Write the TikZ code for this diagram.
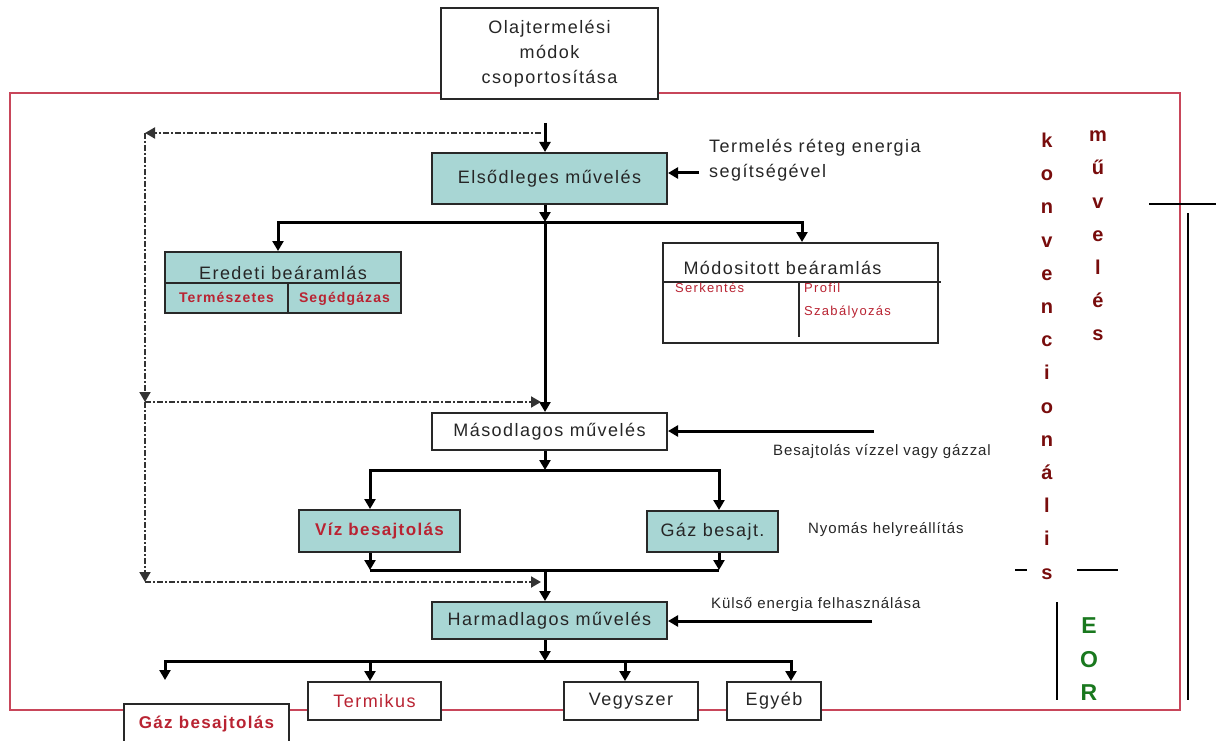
\documentclass[tikz,border=0pt]{standalone}
\usepackage{fontspec}
\setmainfont{Liberation Sans}
\newfontfamily\dfont[LetterSpace=8]{Liberation Sans}
\newfontfamily\sfontsp[LetterSpace=6]{Liberation Sans}
\newfontfamily\cfont[LetterSpace=10]{Liberation Sans}
\usetikzlibrary{arrows.meta,calc}
\definecolor{teal1}{RGB}{168,214,212}
\definecolor{redtxt}{RGB}{185,35,50}
\definecolor{darkred}{RGB}{120,12,12}
\definecolor{eorgreen}{RGB}{25,120,30}
\definecolor{framered}{RGB}{200,70,90}
\definecolor{boxline}{RGB}{40,40,40}
\tikzset{
 box/.style={draw=boxline, line width=2pt, fill=white, inner sep=0pt, font=\dfont\fontsize{18}{22}\selectfont, text=black!85},
 tbox/.style={box, fill=teal1},
 conn/.style={line width=3pt, draw=black},
 arr/.style={conn, -{Triangle[length=10pt,width=11pt]}},
 dsh/.style={line width=2pt, draw=black!80, dash pattern=on 6pt off 2pt on 2pt off 2pt, -{Triangle[length=10pt,width=11pt]}},
 lbl/.style={font=\dfont\fontsize{18}{25}\selectfont, text=black!85, inner sep=0pt, anchor=west, align=left},
 slbl/.style={font=\sfontsp\fontsize{15}{18}\selectfont, text=black!85, inner sep=0pt, anchor=base west},
 celltxt/.style={font=\dfont\fontsize{14}{16}\selectfont\bfseries, text=redtxt, inner sep=0pt, anchor=base},
 smalltxt/.style={font=\cfont\fontsize{13}{15}\selectfont, text=redtxt, inner sep=0pt, anchor=base west},
 vl/.style={font=\fontsize{20}{20}\selectfont\bfseries, text=darkred, inner sep=0pt, anchor=base},
 eor/.style={font=\fontsize{23}{23}\selectfont\bfseries, text=eorgreen, inner sep=0pt, anchor=base},
 thinline/.style={line width=1.6pt, draw=black},
 tabline/.style={line width=2pt, draw=boxline},
}
\begin{document}
\begin{tikzpicture}[x=1pt,y=-1pt]
\useasboundingbox (0,0) rectangle (1216,741);
% frame
\draw[framered, line width=1.6pt] (10,93) rectangle (1180,710);

% nodes
\node[box, minimum width=217pt, minimum height=91pt, align=center, font=\dfont\fontsize{18}{25}\selectfont] (top) at (549.5,54) {Olajtermelési\\módok\\csoportosítása};
\node[tbox, minimum width=235pt, minimum height=51pt] (prim) at (549.5,178.5) {Elsődleges művelés};

\node[tbox, minimum width=236pt, minimum height=61pt] (ered) at (283,282.5) {};
\draw[tabline] (ered.west) -- (ered.east);
\draw[tabline] ($(ered.south west)!0.52!(ered.south east)$) -- ($(ered.west)!0.52!(ered.east)$);
\node[font=\dfont\fontsize{18}{22}\selectfont, text=black!85, inner sep=0pt, anchor=base] (eredh) at (283,279) {Eredeti beáramlás};
\node[celltxt] (term) at (226.5,302) {Természetes};
\node[celltxt] (seg) at (344.5,302) {Segédgázas};

\node[box, minimum width=275pt, minimum height=100pt] (mod) at (800.5,293) {};
\coordinate (mh) at (0,282);
\draw[tabline] (mod.west |- mh) -- ([xshift=2pt]mod.east |- mh);
\coordinate (mv1) at (799,282);
\coordinate (mv2) at (799,337);
\draw[tabline] (mv1) -- (mv2);
\node[font=\dfont\fontsize{18}{22}\selectfont, text=black!85, inner sep=0pt, anchor=base] (modh) at (782.5,274) {Módositott beáramlás};
\node[smalltxt] (serk) at (675,292) {Serkentés};
\node[smalltxt] (prof) at (804,292) {Profil};
\node[smalltxt] (szab) at (804,315) {Szabályozás};

\node[box, minimum width=235pt, minimum height=37pt] (sec) at (549.5,431.5) {Másodlagos művelés};
\node[tbox, minimum width=161pt, minimum height=42pt, font=\dfont\fontsize{17}{20}\selectfont\bfseries, text=redtxt] (viz) at (379.5,531) {Víz besajtolás};
\node[tbox, minimum width=131pt, minimum height=41pt] (gaz) at (712.5,531.5) {Gáz besajt.};
\node[tbox, minimum width=235pt, minimum height=37pt] (ter) at (549.5,620.5) {Harmadlagos művelés};
\node[box, minimum width=133pt, minimum height=38pt, text=redtxt] (termikus) at (374.5,701) {Termikus};
\node[box, minimum width=134pt, minimum height=38pt] (vegy) at (631,701) {Vegyszer};
\node[box, minimum width=94pt, minimum height=38pt] (egyeb) at (774,701) {Egyéb};
\node[box, minimum width=165pt, minimum height=40pt, font=\dfont\fontsize{17}{20}\selectfont\bfseries, text=redtxt] (gazb) at (206.5,724) {Gáz besajtolás};

% main flow
\coordinate (c0) at (545,123);
\draw[arr] (c0) -- (c0 |- prim.north);
\coordinate (j1) at (545,222);
\draw[arr] (prim.south -| j1) -- (j1);
\coordinate (b1) at (278,222);
\coordinate (b2) at (802,222);
\draw[arr] (j1) -- (b1) -- (b1 |- ered.north);
\draw[arr] (j1) -- (b2) -- (b2 |- mod.north);
\draw[arr] (j1) -- (j1 |- sec.north);

\coordinate (in1) at (699,173);
\draw[arr] (in1) -- (in1 -| prim.east);
\coordinate (in2) at (874,431);
\draw[arr] (in2) -- (in2 -| sec.east);
\coordinate (in3) at (872,621);
\draw[arr] (in3) -- (in3 -| ter.east);

\coordinate (j2) at (545,470);
\draw[arr] (sec.south -| j2) -- (j2);
\coordinate (b3) at (370,470);
\coordinate (b4) at (719,470);
\draw[arr] (j2) -- (b3) -- (b3 |- viz.north);
\draw[arr] (j2) -- (b4) -- (b4 |- gaz.north);

\coordinate (j3) at (545,570);
\coordinate (b5) at (370,570);
\coordinate (b6) at (719,570);
\draw[arr] (b5 |- viz.south) -- (b5);
\draw[arr] (b6 |- gaz.south) -- (b6);
\draw[conn] (b5) -- (b6);
\draw[arr] (j3) -- (j3 |- ter.north);

% dashed loop
\coordinate (d1) at (541,133);
\coordinate (d0) at (145,133);
\coordinate (d2) at (145,402);
\coordinate (d3) at (145,582);
\coordinate (d2r) at (541,402);
\coordinate (d3r) at (541,582);
\draw[dsh] (d1) -- (d0);
\draw[dsh] (d0) -- (d2);
\draw[dsh] (d2) -- (d3);
\draw[dsh] (d2) -- (d2r);
\draw[dsh] (d3) -- (d3r);

% outputs
\coordinate (j4) at (545,661);
\draw[arr] (ter.south -| j4) -- (j4);
\coordinate (o1) at (165,661);
\coordinate (o1e) at (165,680);
\coordinate (o2) at (370,661);
\coordinate (o3) at (625,661);
\coordinate (o4) at (791,661);
\draw[arr] (j4) -- (o1) -- (o1e);
\draw[arr] (j4) -- (o4) -- (o4 |- egyeb.north);
\draw[arr] (o2) -- (o2 |- termikus.north);
\draw[arr] (o3) -- (o3 |- vegy.north);

% labels
\node[lbl] (l1) at (709,160) {Termelés réteg energia\\segítségével};
\node[slbl] (l2) at (773,455) {Besajtolás vízzel vagy gázzal};
\node[slbl] (l3) at (808,533) {Nyomás helyreállítás};
\node[slbl] (l4) at (711,608) {Külső energia felhasználása};

% vertical words
\foreach \l [count=\i from 0] in {k,o,n,v,e,n,c,i,o,n,á,l,i,s}
  \node[vl] (kv\i) at (1047,147.5+33.2*\i) {\l};
\foreach \l [count=\i from 0] in {m,ű,v,e,l,é,s}
  \node[vl] (mw\i) at (1098,142+33*\i) {\l};
\node[eor] (eE) at (1089,633) {E};
\node[eor] (eO) at (1089,667) {O};
\node[eor] (eR) at (1089,700) {R};

% right-side rules
\draw[thinline] (1149,204) -- (1216,204);
\draw[thinline] (1188,213) -- (1188,700);
\draw[thinline] (1015,570) -- (1027,570);
\draw[thinline] (1077,570) -- (1118,570);
\draw[thinline] (1057,602) -- (1057,700);
\end{tikzpicture}
\end{document}
